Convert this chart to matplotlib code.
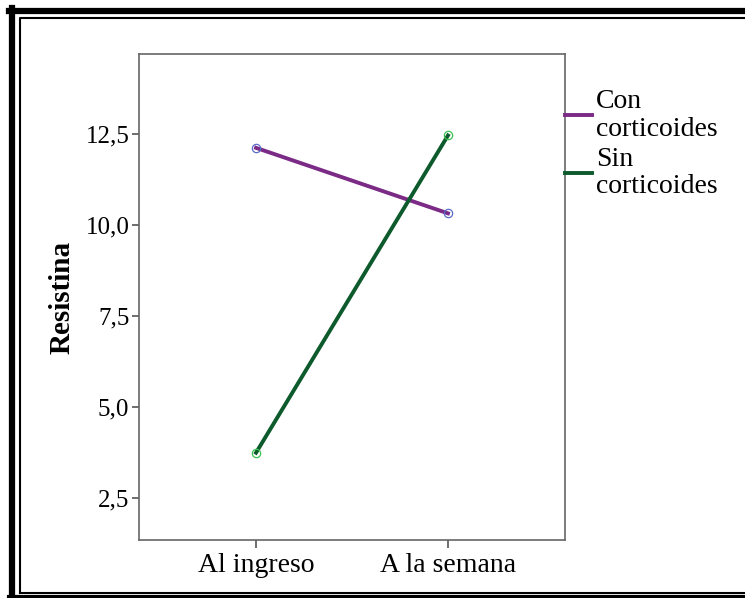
import matplotlib.pyplot as plt
from matplotlib.lines import Line2D

momentos = ['Al ingreso', 'A la semana']
con_corticoides = [12.12, 10.32]
sin_corticoides = [3.74, 12.46]
series = ['Con\ncorticoides', 'Sin\ncorticoides']

plt.rcParams['font.family'] = ['Liberation Serif', 'DejaVu Serif']

W, H = 745, 598
fig = plt.figure(figsize=(W / 100, H / 100), dpi=100)
ax = fig.add_axes([139 / W, 1 - 540 / H, 426 / W, 486 / H])

x = range(len(momentos))
ax.plot(x, con_corticoides, color='#7b2a86', lw=2.8, label=series[0], zorder=2)
ax.plot(x, con_corticoides, 'o', ms=6, mfc='none', mec='#5a6cc8', mew=0.9, zorder=3)
ax.plot(x, sin_corticoides, color='#0d5a2c', lw=2.8, label=series[1], zorder=2)
ax.plot(x, sin_corticoides, 'o', ms=6, mfc='none', mec='#3cc050', mew=0.9, zorder=3)

ax.set_xlim(-0.61, 1.61)
ax.set_ylim(1.34, 14.7)
ax.set_xticks(list(x))
ax.set_xticklabels(momentos, fontsize=20)
ax.set_yticks([2.5, 5.0, 7.5, 10.0, 12.5])
ax.set_yticklabels(['2,5', '5,0', '7,5', '10,0', '12,5'], fontsize=18)
ax.tick_params(axis='both', direction='out', length=5, width=1.2, color='#555555', pad=2)
ax.tick_params(axis='x', length=6, pad=3)
for s in ax.spines.values():
    s.set_color('#666666')
    s.set_linewidth(1.2)
ax.set_ylabel('Resistina', fontsize=21, fontweight='bold', labelpad=7)

leg = ax.legend(loc='upper left', bbox_to_anchor=(1.0, 0.928), frameon=False, fontsize=20,
                handlelength=0.97, handletextpad=0.15, labelspacing=0.17, borderaxespad=0,
                borderpad=0)
for t in leg.get_texts():
    t.set_linespacing(1.15)

# marco del gráfico
fig.add_artist(Line2D([12 / W, 12 / W], [0, 1 - 8 / H], color='black', lw=4.5,
                      transform=fig.transFigure))
fig.add_artist(Line2D([9 / W, 1], [1 - 11 / H, 1 - 11 / H], color='black', lw=4.5,
                      transform=fig.transFigure))
fig.add_artist(Line2D([9 / W, 1], [1 - 597 / H, 1 - 597 / H], color='black', lw=3,
                      transform=fig.transFigure))
fig.add_artist(Line2D([20 / W, 20 / W, 1], [1 - 593 / H, 1 - 18 / H, 1 - 18 / H],
                      color='black', lw=1.5, transform=fig.transFigure))
fig.add_artist(Line2D([20 / W, 1], [1 - 593 / H, 1 - 593 / H], color='black', lw=1.5,
                      transform=fig.transFigure))

fig.savefig('out.png', dpi=100)
